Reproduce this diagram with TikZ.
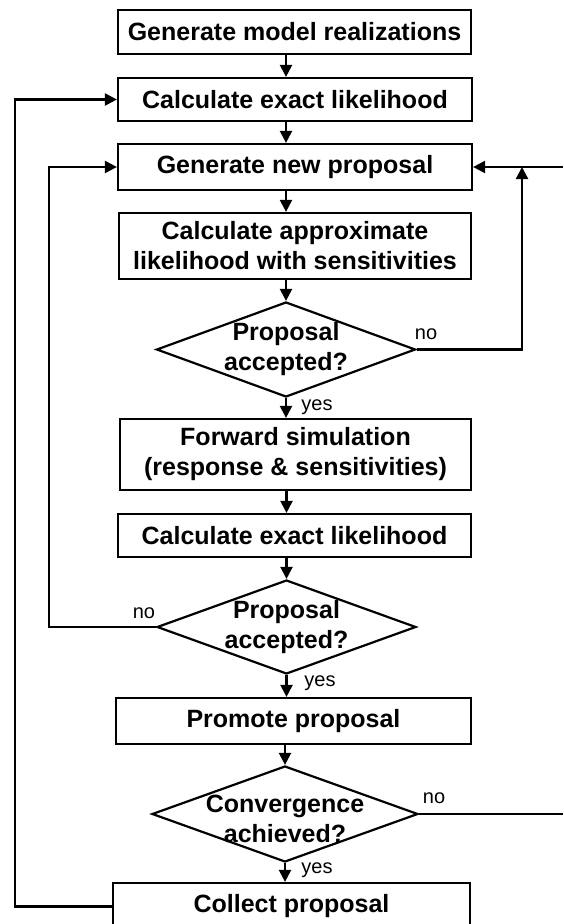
\documentclass[tikz,border=0pt]{standalone}
\usepackage{fontspec}
\setmainfont{Liberation Sans}
\usetikzlibrary{arrows.meta,shapes.geometric}
\begin{document}
\begin{tikzpicture}[x=1pt,y=-1pt,
  lw/.style={line width=2.2pt},
  arr/.style={lw,-{Triangle[length=12pt,width=12pt]}},
  box/.style n args={2}{draw,lw,rectangle,minimum width=#1,minimum height=#2,inner sep=0pt,align=center,font=\fontsize{25}{30}\selectfont\bfseries},
  dia/.style n args={2}{draw,lw,diamond,minimum width=#1,minimum height=#2,inner sep=0pt},
  dtext/.style={align=center,inner sep=0pt,font=\fontsize{25}{30}\selectfont\bfseries},
  lab/.style={inner sep=0pt,font=\fontsize{20}{22}\selectfont}]
\useasboundingbox (0,0) rectangle (563,924);
\clip (0,0) rectangle (563,924);
% boxes
\node[box={353}{44}] (B1) at (294.5,32) {Generate model realizations};
\node[box={354}{43}] (B2) at (295,99.5) {Calculate exact likelihood};
\node[box={354}{46}] (B3) at (295,167) {Generate new proposal};
\node[box={352}{66}] (B4) at (295,246) {Calculate approximate\\likelihood with sensitivities};
\node[dia={259}{95}] (D1) at (286,349.5) {};
\node[dtext] (D1t) at (D1) {Proposal\\accepted?};
\node[box={351}{71}] (B5) at (295.5,454.5) {Forward simulation\\(response \& sensitivities)};
\node[box={353}{43}] (B6) at (294.5,535.5) {Calculate exact likelihood};
\node[dia={259}{94}] (D2) at (286.5,627) {};
\node[dtext] (D2t) at (D2) {Proposal\\accepted?};
\node[box={355}{46}] (B7) at (293.5,721) {Promote proposal};
\node[dia={266}{96}] (D3) at (285,814) {};
\node[dtext] (D3t) at (285,819) {Convergence\\achieved?};
\node[box={357}{47}] (B8) at (291.5,906.5) {Collect proposal};
% labels
\node[lab] (y1) at (317,407) {yes};
\node[lab] (n1) at (426,334) {no};
\node[lab] (n2) at (144,613) {no};
\node[lab] (y2) at (320,683) {yes};
\node[lab] (n3) at (434,798) {no};
\node[lab] (y3) at (317,870) {yes};
% helper coordinates
\coordinate (ax) at (286,0);
\coordinate (xl) at (15,0);
\coordinate (xm) at (49,0);
\coordinate (xr) at (522,0);
\coordinate (re1) at (563,167);
\coordinate (re2) at (563,814);
% main flow
\draw[arr] (B1.south -| ax) -- (B2.north -| ax);
\draw[arr] (B2.south -| ax) -- (B3.north -| ax);
\draw[arr] (B3.south -| ax) -- (B4.north -| ax);
\draw[arr] (B4.south -| D1.north) -- (D1.north);
\draw[arr] (D1.south) -- (D1.south |- B5.north);
\draw[arr] (B5.south -| D2.north) -- (B6.north -| D2.north);
\draw[arr] (B6.south -| D2.north) -- (D2.north);
\draw[arr] (D2.south) -- (D2.south |- B7.north);
\draw[arr] (B7.south -| D3.north) -- (D3.north);
\draw[arr] (D3.south) -- (D3.south |- B8.north);
% loops
\draw[arr] (B8.west) -- (B8.west -| xl) -- (xl |- B2.west) -- (B2.west);
\draw[arr] (D2.west) -- (D2.west -| xm) -- (xm |- B3.west) -- (B3.west);
\draw[arr] (D1.east) -- (D1.east -| xr) -- (xr |- re1);
\draw[arr] (re1) -- (B3.east);
\draw[lw] (D3.east) -- (re2);
\end{tikzpicture}
\end{document}
